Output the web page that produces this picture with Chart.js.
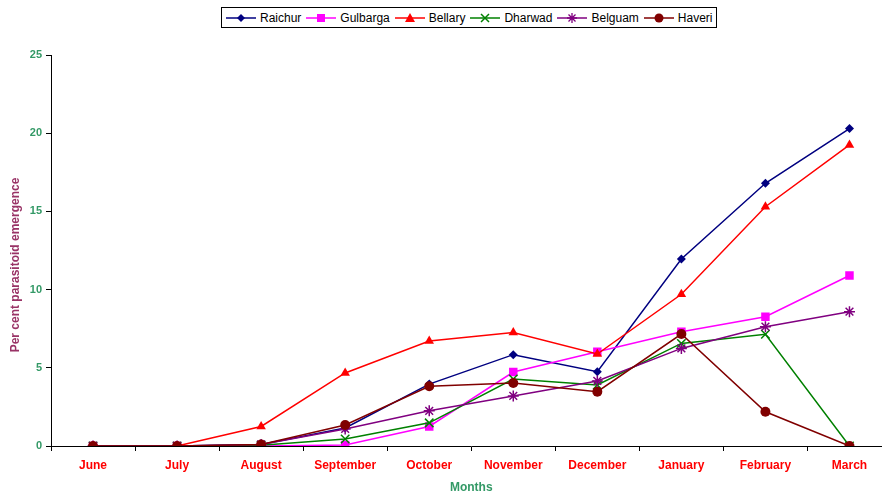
<!DOCTYPE html>
<html>
<head>
<meta charset="utf-8">
<script src="https://cdn.jsdelivr.net/npm/chart.js@4.4.1/dist/chart.umd.min.js"></script>
<style>
  html, body { margin: 0; padding: 0; background: #fff; overflow: hidden; width: 882px; height: 496px; }
  #wrap { position: relative; width: 882px; height: 496px; overflow: hidden; }
  #chart { position: absolute; left: 0; top: 0; }
  #legend {
    position: absolute; left: 221px; top: 7px; width: 490px; height: 19px;
    border: 1px solid #000; background: #fff;
    display: flex; align-items: center; padding-left: 4px; box-sizing: content-box;
    font: 12px "Liberation Sans", Arial, sans-serif; color: #000;
  }
  #legend .item { display: flex; align-items: center; margin-right: 5px; white-space: nowrap; }
  #legend svg { margin-right: 4px; }
</style>
</head>
<body>
<div id="wrap">
  <canvas id="chart" width="899" height="496"></canvas>
  <div id="legend"></div>
</div>
<script>
var months = ['June', 'July', 'August', 'September', 'October', 'November', 'December', 'January', 'February', 'March'];
var yTicks = [0, 5, 10, 15, 20, 25];

var raichur  = [0, 0, 0.1, 1.15, 3.96, 5.84, 4.75, 11.96, 16.8, 20.3];
var gulbarga = [0, 0, 0, 0.06, 1.25, 4.73, 6.03, 7.31, 8.27, 10.9];
var bellary  = [0, 0, 1.25, 4.67, 6.71, 7.25, 5.88, 9.7, 15.3, 19.25];
var dharwad  = [0, 0, 0.05, 0.45, 1.48, 4.28, 3.9, 6.56, 7.14, 0];
var belguam  = [0, 0, 0.1, 1.09, 2.25, 3.2, 4.16, 6.24, 7.63, 8.59];
var haveri   = [0, 0, 0.1, 1.34, 3.82, 4.03, 3.47, 7.16, 2.19, 0];

var yTitle = 'Per cent parasitoid emergence';
var xTitle = 'Months';

var series = [
  { name: 'Raichur',  data: raichur,  color: '#000080', style: 'rectRot',  r: 4.5 },
  { name: 'Gulbarga', data: gulbarga, color: '#FF00FF', style: 'rect',     r: 6 },
  { name: 'Bellary',  data: bellary,  color: '#FF0000', style: 'triangle', r: 5.5 },
  { name: 'Dharwad',  data: dharwad,  color: '#008000', style: 'crossRot', r: 6 },
  { name: 'Belguam',  data: belguam,  color: '#800080', style: 'star',     r: 5.5 },
  { name: 'Haveri',   data: haveri,   color: '#800000', style: 'circle',   r: 5 }
];

// legend symbols: short line with the marker in the middle
function legendSymbol(s) {
  var c = s.color, m = '';
  if (s.style === 'rectRot') m = '<polygon points="15,2 19,6 15,10 11,6" fill="' + c + '"/>';
  else if (s.style === 'rect') m = '<rect x="11" y="2" width="8" height="8" fill="' + c + '"/>';
  else if (s.style === 'triangle') m = '<polygon points="15,1 20,10 10,10" fill="' + c + '"/>';
  else if (s.style === 'crossRot') m = '<path d="M11 2 L19 10 M19 2 L11 10" stroke="' + c + '" stroke-width="1.5"/>';
  else if (s.style === 'star') m = '<path d="M10 6 L20 6 M15 1 L15 11 M11.5 2.5 L18.5 9.5 M18.5 2.5 L11.5 9.5" stroke="' + c + '" stroke-width="1.3"/>';
  else m = '<circle cx="15" cy="6" r="4.5" fill="' + c + '"/>';
  return '<svg width="30" height="12" viewBox="0 0 30 12"><line x1="0" y1="6" x2="30" y2="6" stroke="' + c + '" stroke-width="1.5"/>' + m + '</svg>';
}

var legendEl = document.getElementById('legend');
series.forEach(function (s) {
  var item = document.createElement('span');
  item.className = 'item';
  item.innerHTML = legendSymbol(s) + '<span>' + s.name + '</span>';
  legendEl.appendChild(item);
});

// rotated y-axis title
var yTitlePlugin = {
  id: 'yTitle',
  afterDraw: function (chart) {
    var ctx = chart.ctx;
    ctx.save();
    ctx.translate(16, 265);
    ctx.rotate(-Math.PI / 2);
    ctx.font = 'bold 12px "Liberation Sans", Arial, sans-serif';
    ctx.fillStyle = '#993366';
    ctx.textAlign = 'center';
    ctx.textBaseline = 'middle';
    ctx.fillText(yTitle, 0, 0);
    ctx.restore();
  }
};

var datasets = series.map(function (s, i) {
  return {
    label: s.name,
    data: s.data,
    borderColor: s.color,
    backgroundColor: s.color,
    borderWidth: 1.5,
    pointStyle: s.style,
    pointRadius: s.r,
    pointBorderWidth: (s.style === 'crossRot' || s.style === 'star') ? 1.5 : 0,
    pointBorderColor: s.color,
    pointBackgroundColor: s.color,
    tension: 0,
    order: series.length - i
  };
});

new Chart(document.getElementById('chart'), {
  type: 'line',
  data: { labels: months, datasets: datasets },
  plugins: [yTitlePlugin],
  options: {
    responsive: false,
    animation: false,
    devicePixelRatio: 1,
    layout: { padding: { top: 55, right: 0, left: 0, bottom: 0 } },
    plugins: { legend: { display: false }, tooltip: { enabled: false } },
    scales: {
      x: {
        offset: true,
        grid: { offset: true, drawOnChartArea: false, drawTicks: true, tickLength: 5, color: '#000' },
        border: { color: '#000', width: 1 },
        ticks: { color: '#FF0000', padding: 7, maxRotation: 0, autoSkip: false,
                 font: { family: '"Liberation Sans", Arial, sans-serif', size: 12, weight: 'bold' } },
        title: { display: true, text: xTitle, color: '#339966', padding: { top: 0, bottom: 1 },
                 font: { family: '"Liberation Sans", Arial, sans-serif', size: 12, weight: 'bold' } },
        afterFit: function (scale) { scale.height = 50; }
      },
      y: {
        min: 0, max: 25,
        afterBuildTicks: function (scale) { scale.ticks = yTicks.map(function (v) { return { value: v }; }); },
        grid: { drawOnChartArea: false, drawTicks: true, tickLength: 5, color: '#000' },
        border: { color: '#000', width: 1 },
        ticks: { color: '#339966', padding: 4,
                 font: { family: '"Liberation Sans", Arial, sans-serif', size: 11, weight: 'bold' } },
        afterFit: function (scale) { scale.width = 51; }
      }
    }
  }
});
</script>
</body>
</html>
